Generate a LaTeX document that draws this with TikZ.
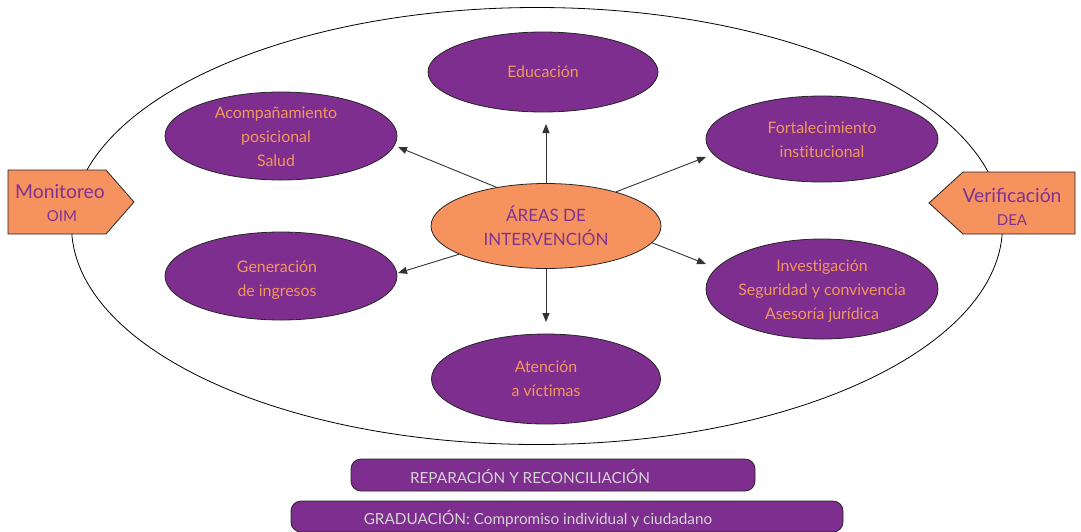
\documentclass[tikz,border=0pt]{standalone}
\usepackage{fontspec}
\setmainfont{Lato}
\usetikzlibrary{shapes.geometric,arrows.meta}
\definecolor{purp}{HTML}{7E2E8E}
\definecolor{orng}{HTML}{F5925E}
\definecolor{otext}{HTML}{F2975C}
\definecolor{ptext}{HTML}{7E3394}
\definecolor{gtext}{HTML}{D4D4D4}
\definecolor{lin}{HTML}{333333}
\tikzset{
  pell/.style={ellipse, draw=black!85, line width=0.8pt, fill=purp, inner sep=0pt},
  oell/.style={ellipse, draw=black!85, line width=0.8pt, fill=orng, inner sep=0pt},
  ptxt/.style={text=otext, align=center, font=\fontsize{15.9}{24}\selectfont, inner sep=0pt},
  ctxt/.style={text=ptext, align=center, font=\fontsize{17}{24}\selectfont, inner sep=0pt},
  arr/.style={draw=lin, line width=0.9pt, -{Triangle[length=9pt,width=7pt]}},
  bar/.style={draw=black!85, line width=0.8pt, fill=purp, rounded corners=10pt, inner sep=0pt},
  btxt/.style={text=gtext, font=\fontsize{15.3}{18}\selectfont, inner sep=0pt},
  sig/.style={draw=black!85, line width=0.8pt, fill=orng},
  stxt/.style={text=ptext, font=\fontsize{19.3}{22}\selectfont, inner sep=0pt},
  ssub/.style={text=ptext, font=\fontsize{15}{18}\selectfont, inner sep=0pt},
}
\begin{document}
\begin{tikzpicture}[x=1pt,y=-1pt]
\useasboundingbox (0,0) rectangle (1081,531);
% outer ellipse
\node[ellipse, draw=black, line width=0.8pt, minimum width=931pt, minimum height=437pt, inner sep=0pt] (outer) at (537,226) {};
% ellipses
\node[pell, minimum width=230pt, minimum height=80pt] (edu) at (543,72) {};
\node[ptxt] (eduT) at (edu) {Educación};
\node[pell, minimum width=232pt, minimum height=88pt] (acomp) at (281,136) {};
\node[ptxt] (acompT) at (276,137) {Acompañamiento\\posicional\\Salud};
\node[pell, minimum width=232pt, minimum height=86pt] (fort) at (822,139) {};
\node[ptxt] (fortT) at (822,140) {Fortalecimiento\\inst\kern0pt itucional};
\node[pell, minimum width=232pt, minimum height=88pt] (gen) at (281,276) {};
\node[ptxt] (genT) at (277,280) {Generación\\de ingresos};
\node[pell, minimum width=232pt, minimum height=100pt] (inv) at (822,289) {};
\node[ptxt] (invT) at (822,291) {Invest\kern0pt igación\\Seguridad y convivencia\\Asesoría jurídica};
\node[pell, minimum width=229pt, minimum height=90pt] (aten) at (546,379) {};
\node[ptxt] (atenT) at (aten) {Atención\\a víct\kern0pt imas};
\node[oell, minimum width=230pt, minimum height=85pt] (c) at (546,226) {};
\node[ctxt] (cT) at (c) {ÁREAS DE\\INTERVENCIÓN};
% arrow tips
\coordinate (t1) at (546,124);
\coordinate (t2) at (398,147);
\coordinate (t3) at (706,157);
\coordinate (t4) at (398,273);
\coordinate (t5) at (706,264);
\coordinate (t6) at (546,322);
\draw[arr] (c.90) -- (t1);
\draw[arr] (c.142) -- (t2);
\draw[arr] (c.26) -- (t3);
\draw[arr] (c.198) -- (t4);
\draw[arr] (c.351) -- (t5);
\draw[arr] (c.270) -- (t6);
% side signals
\draw[sig] (8,170) -- (106,170) -- (134,202) -- (106,234) -- (8,234) -- cycle;
\node[stxt] (mon) at (60,192) {Monitoreo};
\node[ssub] (oim) at (62,216) {OIM};
\draw[sig] (1075,172) -- (963,172) -- (929,203) -- (963,234) -- (1075,234) -- cycle;
\node[stxt] (ver) at (1012,195) {Verificación};
\node[ssub] (dea) at (1012,220) {DEA};
% bottom bars
\node[bar, minimum width=404pt, minimum height=32pt] (rep) at (553,475) {};
\node[btxt] (repT) at (530,476) {REPARACIÓN Y RECONCILIACIÓN};
\node[bar, minimum width=552pt, minimum height=31pt] (grad) at (567,516.5) {};
\node[btxt] (gradT) at (538,519) {GRADUACIÓN: Compromiso individual y ciudadano};
\end{tikzpicture}
\end{document}
